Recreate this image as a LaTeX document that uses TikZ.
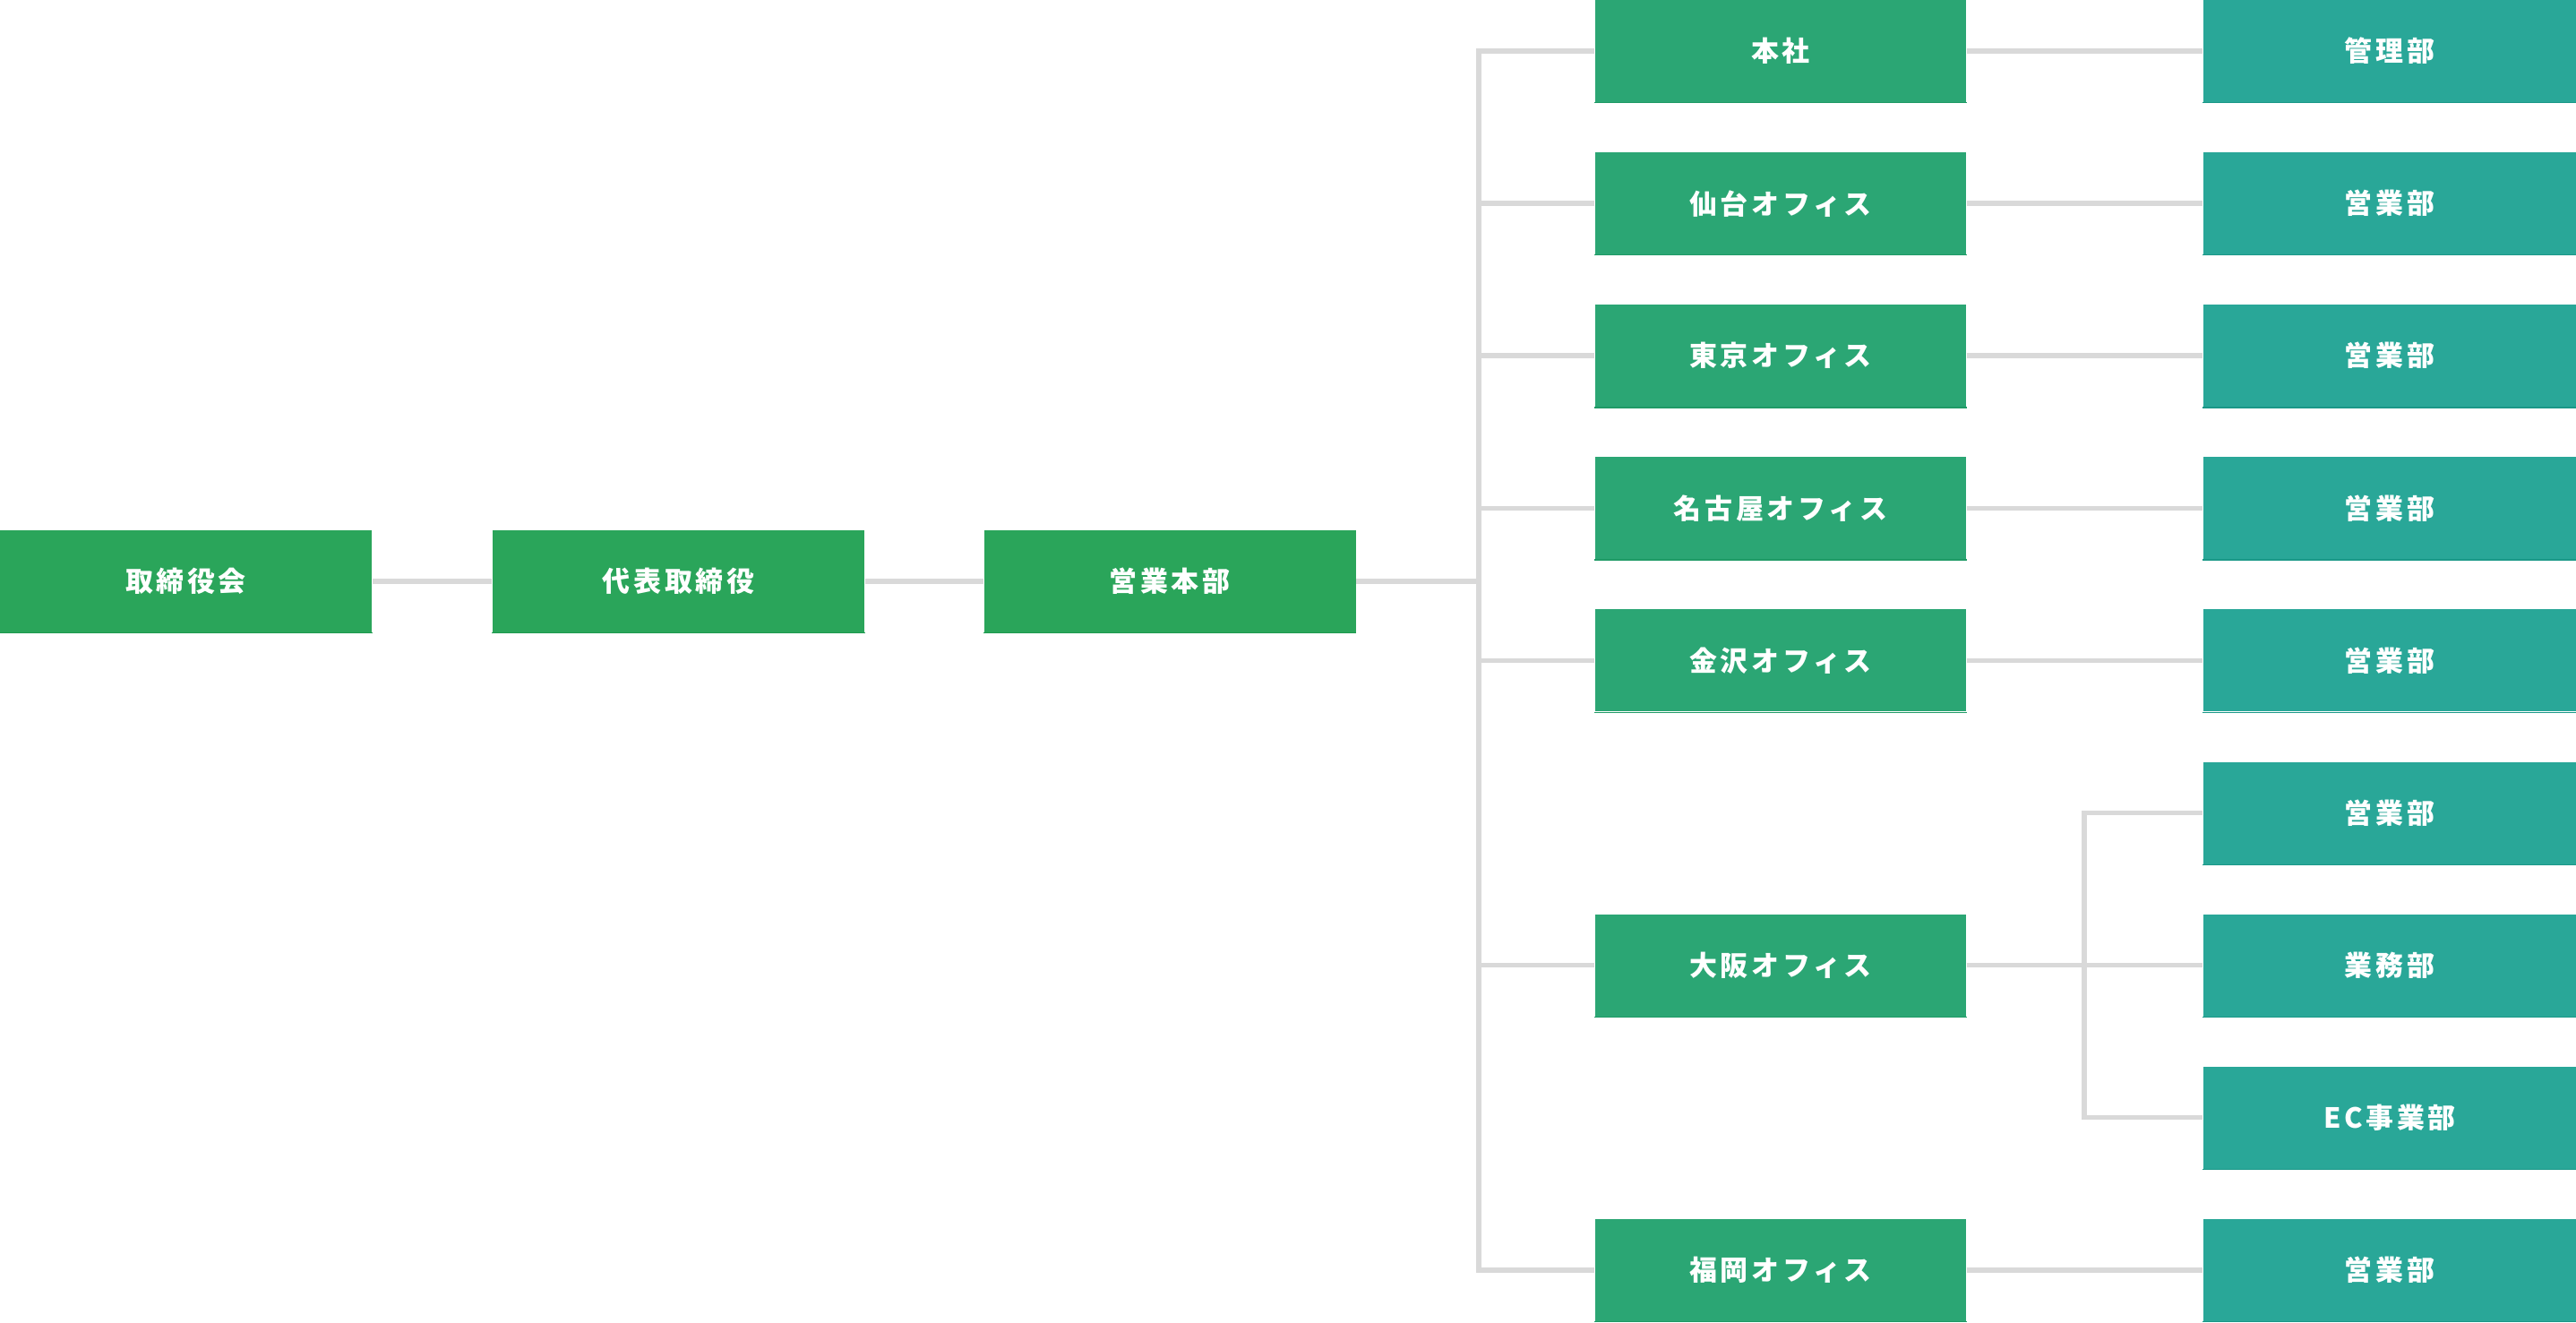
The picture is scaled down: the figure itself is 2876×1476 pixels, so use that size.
\documentclass[tikz,border=0pt]{standalone}
\usepackage{fontspec}
\newfontfamily\jp[LetterSpace=12]{Noto Sans CJK JP}
\definecolor{mainG}{HTML}{2AA55A}
\definecolor{mainGd}{HTML}{1E9A4E}
\definecolor{offG}{HTML}{2BA674}
\definecolor{offGd}{HTML}{1F9A66}
\definecolor{depT}{HTML}{29A798}
\definecolor{depTd}{HTML}{1A9888}
\definecolor{lineG}{HTML}{D9D9D9}
\tikzset{
  box/.style={rectangle, inner sep=0pt, text=white, minimum height=11.4mm,
    font=\jp\bfseries\fontsize{8.8pt}{10pt}\selectfont},
  mainbox/.style={box, fill=mainG, minimum width=41.5mm},
  offbox/.style={box, fill=offG, minimum width=41.4mm},
  depbox/.style={box, fill=depT, minimum width=41.7mm},
  conn/.style={draw=lineG, line width=0.55mm, line join=miter},
}
\begin{document}
\begin{tikzpicture}[x=0.1mm,y=-0.1mm]
\useasboundingbox (0,0) rectangle (2876,1476);
% rows
\def\rA{57}\def\rB{227.1}\def\rC{397.2}\def\rD{567.3}\def\rE{737.4}
\def\rF{907.5}\def\rG{1077.6}\def\rH{1247.7}\def\rI{1417.8}
\def\rM{649}
% connectors (drawn first, behind the boxes)
\coordinate (tM) at (1651,\rM);
\coordinate (sM) at (2327,\rG);
% main chain
\node[mainbox] (b1) at (207.5,\rM) {取締役会};
\node[mainbox] (b2) at (757.5,\rM) {代表取締役};
\node[mainbox] (b3) at (1306,\rM) {営業本部};
% offices
\node[offbox] (o1) at (1988,\rA) {本社};
\node[offbox] (o2) at (1988,\rB) {仙台オフィス};
\node[offbox] (o3) at (1988,\rC) {東京オフィス};
\node[offbox] (o4) at (1988,\rD) {名古屋オフィス};
\node[offbox] (o5) at (1988,\rE) {金沢オフィス};
\node[offbox] (o6) at (1988,\rG) {大阪オフィス};
\node[offbox] (o7) at (1988,\rI) {福岡オフィス};
% departments
\node[depbox] (d1) at (2668,\rA) {管理部};
\node[depbox] (d2) at (2668,\rB) {営業部};
\node[depbox] (d3) at (2668,\rC) {営業部};
\node[depbox] (d4) at (2668,\rD) {営業部};
\node[depbox] (d5) at (2668,\rE) {営業部};
\node[depbox] (d6a) at (2668,\rF) {営業部};
\node[depbox] (d6b) at (2668,\rG) {業務部};
\node[depbox] (d6c) at (2668,\rH) {EC事業部};
\node[depbox] (d7) at (2668,\rI) {営業部};
% bottom edges
\foreach \n in {b1,b2,b3}{\draw[mainGd, line width=0.12mm] (\n.south west) -- (\n.south east);}
\foreach \n in {o1,o2,o3,o4,o5,o6,o7}{\draw[offGd, line width=0.12mm] (\n.south west) -- (\n.south east);}
\foreach \n in {d1,d2,d3,d4,d5,d6a,d6b,d6c,d7}{\draw[depTd, line width=0.12mm] (\n.south west) -- (\n.south east);}
% connectors
\path[conn] (b1.east) -- (b2.west);
\path[conn] (b2.east) -- (b3.west);
\path[conn] (b3.east) -- (tM);
\path[conn] (o1.west) -| (tM) |- (o7.west);
\foreach \n in {o2,o3,o4,o5,o6}{\path[conn] (\n.west) -- (tM |- \n.west);}
\path[conn] (o1.east) -- (d1.west);
\path[conn] (o2.east) -- (d2.west);
\path[conn] (o3.east) -- (d3.west);
\path[conn] (o4.east) -- (d4.west);
\path[conn] (o5.east) -- (d5.west);
\path[conn] (o7.east) -- (d7.west);
\path[conn] (o6.east) -- (sM);
\path[conn] (d6a.west) -| (sM) |- (d6c.west);
\path[conn] (sM) -- (d6b.west);
\end{tikzpicture}
\end{document}
